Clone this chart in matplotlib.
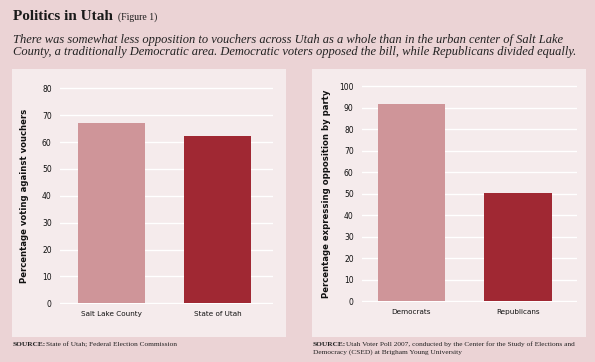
import matplotlib.pyplot as plt
from matplotlib.patches import Rectangle

plt.rcParams["font.family"] = "DejaVu Sans"

# data
left_cats = ["Salt Lake County", "State of Utah"]
left_vals = [67.2, 62.4]
right_cats = ["Democrats", "Republicans"]
right_vals = [91.8, 50.4]

bar_colors = ["#cf9599", "#a02833"]
bg_outer = "#ebd3d5"
bg_panel = "#f5ebec"

W, H = 595, 362
fig = plt.figure(figsize=(W / 100, H / 100), dpi=100, facecolor=bg_outer)


def px(x0, y0, x1, y1):
    # pixel box (top-left origin) -> figure fraction [l, b, w, h]
    return [x0 / W, (H - y1) / H, (x1 - x0) / W, (y1 - y0) / H]


# light panels
for x0 in (12, 312):
    l, b, w, h = px(x0, 69, x0 + 274, 337)
    fig.patches.append(Rectangle((l, b), w, h, transform=fig.transFigure,
                                 facecolor=bg_panel, edgecolor="none", zorder=-5))

serif = "Liberation Serif"
# titles
fig.text(13 / W, 1 - 20 / H, "Politics in Utah", family=serif, va="baseline",
         fontsize=11, fontweight="bold", color="#1a1a1a")
fig.text(118 / W, 1 - 20 / H, "(Figure 1)", family=serif, va="baseline",
         fontsize=7, color="#1a1a1a")
fig.text(13 / W, 1 - 42.7 / H,
         "There was somewhat less opposition to vouchers across Utah as a whole than in the urban center of Salt Lake",
         family=serif, style="italic", fontsize=9.0, color="#222222", va="baseline")
fig.text(13 / W, 1 - 55 / H,
         "County, a traditionally Democratic area. Democratic voters opposed the bill, while Republicans divided equally.",
         family=serif, style="italic", fontsize=9.0, color="#222222", va="baseline")


def draw(ax, cats, vals, top, ylabel, xlim, labelpad):
    ax.set_facecolor("none")
    ax.bar(range(len(cats)), vals, width=0.63, color=bar_colors, zorder=3)
    ax.set_ylim(-0.4, top + 0.4)
    ax.set_xlim(*xlim)
    ax.set_yticks(range(0, top + 1, 10))
    ax.set_xticks(range(len(cats)))
    ax.set_xticklabels(cats, fontsize=5.2, color="#111111")
    ax.tick_params(axis="y", labelsize=5.5, colors="#111111", length=0, pad=6)
    ax.tick_params(axis="x", length=0, pad=5)
    ax.grid(axis="y", color="white", linewidth=1.0, zorder=1)
    for s in ax.spines.values():
        s.set_visible(False)
    ax.set_ylabel(ylabel, fontsize=6.1, fontweight="bold", color="#111111",
                  labelpad=labelpad)


ax1 = fig.add_axes(px(60, 87.3, 273, 304.3))
draw(ax1, left_cats, left_vals, 80, "Percentage voting against vouchers",
     (-0.48, 1.52), 9)

ax2 = fig.add_axes(px(362, 85.3, 577, 302.3))
draw(ax2, right_cats, right_vals, 100, "Percentage expressing opposition by party",
     (-0.46, 1.55), 6)

# sources
src = dict(family=serif, fontsize=5.3, color="#222222", va="baseline")
fig.text(13 / W, 1 - 346.5 / H, "SOURCE:", fontweight="bold", **src)
fig.text(46 / W, 1 - 346.5 / H, "State of Utah; Federal Election Commission", **src)
fig.text(313 / W, 1 - 346 / H, "SOURCE:", fontweight="bold", **src)
fig.text(346 / W, 1 - 346 / H,
         "Utah Voter Poll 2007, conducted by the Center for the Study of Elections and", **src)
fig.text(313 / W, 1 - 354 / H, "Democracy (CSED) at Brigham Young University", **src)

fig.savefig("out.png", dpi=100, facecolor=bg_outer)
